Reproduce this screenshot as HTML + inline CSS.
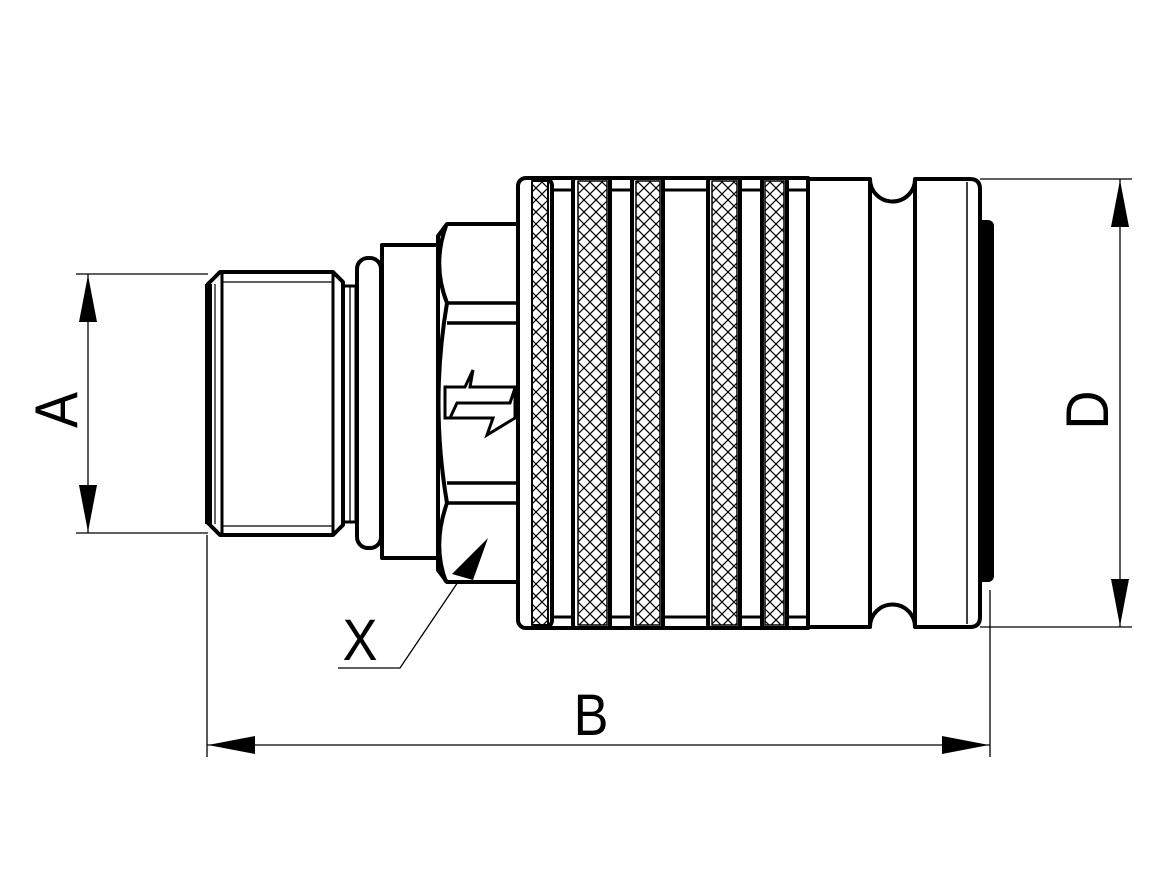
<!DOCTYPE html>
<html><head><meta charset="utf-8"><style>
html,body{margin:0;padding:0;background:#fff;}
svg{display:block;}
text{font-family:"Liberation Sans",sans-serif;}
</style></head><body>
<svg width="1172" height="880" viewBox="0 0 1172 880" xmlns="http://www.w3.org/2000/svg">
<defs>
<pattern id="h" width="12" height="12" patternUnits="userSpaceOnUse" x="2" y="2">
<path d="M0,0 L12,12 M12,0 L0,12" stroke="#000" stroke-width="1.2"/>
</pattern>
</defs>
<g fill="none" stroke="#000" stroke-width="1.3">
<line x1="76" y1="274" x2="208" y2="274"/>
<line x1="76" y1="533" x2="208" y2="533"/>
<line x1="88" y1="274" x2="88" y2="533"/>
<line x1="207" y1="535" x2="207" y2="757"/>
<line x1="990" y1="590" x2="990" y2="757"/>
<line x1="207" y1="745" x2="990" y2="745"/>
<line x1="980" y1="179" x2="1132" y2="179"/>
<line x1="980" y1="627" x2="1132" y2="627"/>
<line x1="1120" y1="179" x2="1120" y2="627"/>
<polyline points="458,582 400,668 338,668"/>
</g>
<g fill="#000">
<polygon points="88,275 79,322 97,322"/>
<polygon points="88,532 79,485 97,485"/>
<polygon points="208,745 255,736 255,754"/>
<polygon points="989,745 942,736 942,754"/>
<polygon points="1120,180 1111,227 1129,227"/>
<polygon points="1120,626 1111,579 1129,579"/>
</g>
<text x="0" y="0" font-size="60" transform="translate(77,410) rotate(-90) scale(0.9,1)" text-anchor="middle" fill="#000">A</text>
<text x="0" y="0" font-size="60" transform="translate(1108,410) rotate(-90) scale(0.9,1)" text-anchor="middle" fill="#000">D</text>
<text x="0" y="0" font-size="58" transform="translate(591,735) scale(0.9,1)" text-anchor="middle" fill="#000">B</text>
<text x="0" y="0" font-size="58" transform="translate(360,660) scale(0.9,1)" text-anchor="middle" fill="#000">X</text>

<g fill="#fff" stroke="#000" stroke-width="4" stroke-linejoin="round">
<rect x="978" y="222" width="14" height="358" rx="4" fill="#000"/>
<path d="M528,178 L808,178 L808,628 L528,628 Q518,628 518,618 L518,188 Q518,178 528,178 Z"/>
<rect x="550" y="190" width="258" height="427" stroke-width="3"/>
<rect x="518" y="178" width="34" height="450" rx="8"/>
<rect x="532" y="181" width="16" height="444" fill="url(#h)" stroke-width="2"/>
<rect x="573" y="178" width="37" height="450" rx="3"/>
<rect x="578" y="181" width="29" height="444" fill="url(#h)" stroke-width="1.5"/>
<rect x="632" y="178" width="31" height="450" rx="3"/>
<rect x="636" y="181" width="24" height="444" fill="url(#h)" stroke-width="1.5"/>
<rect x="708" y="178" width="32" height="450" rx="3"/>
<rect x="712" y="181" width="25" height="444" fill="url(#h)" stroke-width="1.5"/>
<rect x="762" y="178" width="25" height="450" rx="3"/>
<rect x="765" y="181" width="19" height="444" fill="url(#h)" stroke-width="1.5"/>
<path d="M808,179 L870,179 A22.5,22.5 0 0 0 915,179 L970,179 Q980,179 980,189 L980,617 Q980,627 970,627 L915,627 A22.5,22.5 0 0 0 870,627 L808,627 Z"/>
<line x1="870" y1="181" x2="870" y2="625"/>
<line x1="915" y1="181" x2="915" y2="625"/>
<line x1="967" y1="182" x2="967" y2="624" stroke-width="1.5"/>
<path d="M447,224 L518,224 L518,582 L447,582 L438,570 L438,236 Z"/>
<path d="M446,226 Q432,265 447,303 Q430,403 447,503 Q432,545 446,582" fill="none"/>
<path d="M447,303 L518,303 M447,323 L518,323 M447,483 L518,483 M447,503 L518,503" fill="none" stroke-width="3.5"/>
<rect x="382" y="245" width="56" height="313"/>
<rect x="357" y="258" width="24" height="290" rx="11"/>
<rect x="336" y="286" width="20" height="236" stroke-width="3"/>
<line x1="350" y1="287" x2="350" y2="521" stroke-width="1.3"/>
<path d="M220,272 L333,272 L343,282 L343,525 L333,535 L220,535 L208,523 L208,284 Z"/>
<line x1="222" y1="274" x2="222" y2="533" stroke-width="3"/>
<line x1="333" y1="274" x2="333" y2="533" stroke-width="3"/>
<line x1="222" y1="282" x2="333" y2="282" stroke-width="1.3"/>
<line x1="222" y1="526" x2="333" y2="526" stroke-width="1.3"/>
</g>
<rect x="205" y="284" width="7" height="240" fill="#000"/>
<line x1="215" y1="284" x2="215" y2="524" stroke="#000" stroke-width="1.2"/>
<polygon points="452,574 488,538 473,580" fill="#000"/>
<g fill="none" stroke="#000" stroke-width="3" stroke-linejoin="miter">
<polygon points="445,387 465,387 473,370 470,387 515,387 515,418 487,435 493,418 445,418" fill="#fff"/>
<polyline points="450,418 457,403 510,403 515,388"/>
</g>
</svg>
</body></html>
